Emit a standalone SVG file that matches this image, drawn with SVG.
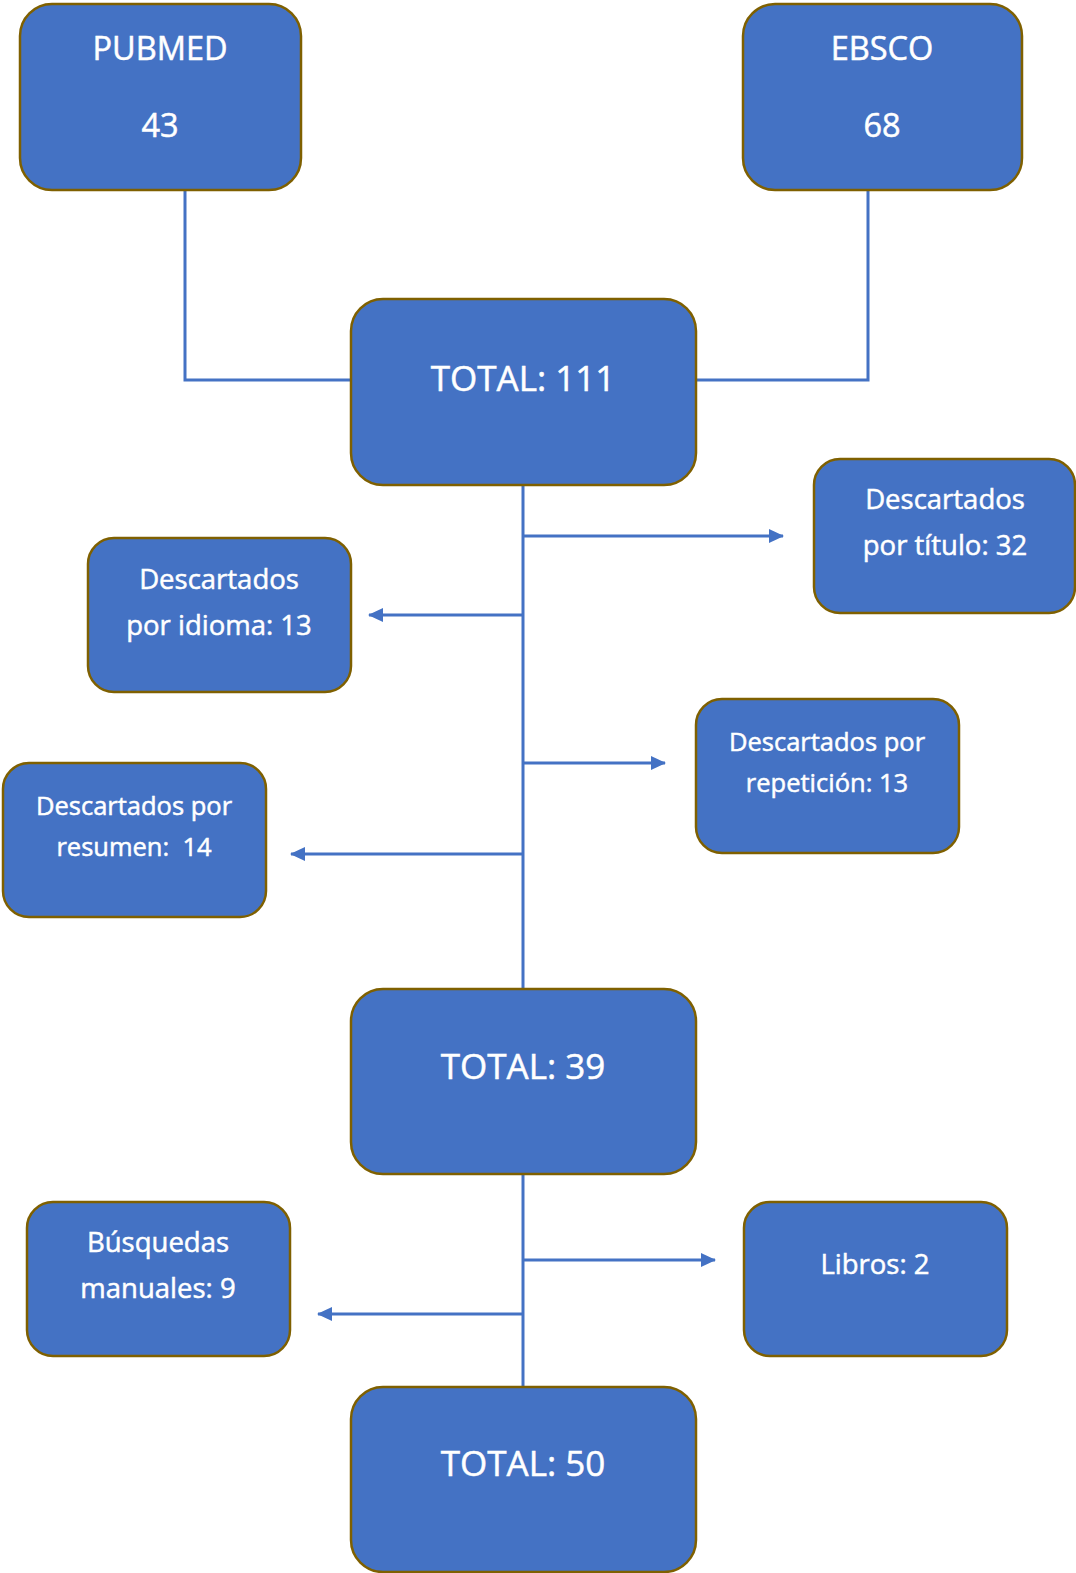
<svg xmlns="http://www.w3.org/2000/svg" width="1076" height="1573" viewBox="0 0 1076 1573">
<style>
.box{fill:#4472C4;stroke:#7F6000;stroke-width:2.5}
.t{font-family:"Open Sans","Noto Sans","Liberation Sans",sans-serif;fill:#fff;stroke:#fff;stroke-width:0.5;text-anchor:middle}
.big{font-size:35px}
.mid{font-size:32.5px}
.sm{font-size:27.5px}
.xs{font-size:25.5px}
.c{fill:none;stroke:#4472C4;stroke-width:3}
</style>
<defs>
<marker id="ah" markerUnits="userSpaceOnUse" markerWidth="16" markerHeight="16" viewBox="0 0 16 16" refX="14" refY="8" orient="auto">
<path d="M0,1 L15,8 L0,15 Z" fill="#4472C4"/>
</marker>
</defs>
<g id="connectors">
<polyline class="c" points="185,190 185,380 351,380"/>
<polyline class="c" points="868,190 868,380 696,380"/>
<line class="c" x1="523" y1="485" x2="523" y2="989"/>
<line class="c" x1="523" y1="536" x2="783" y2="536" marker-end="url(#ah)"/>
<line class="c" x1="523" y1="615" x2="369" y2="615" marker-end="url(#ah)"/>
<line class="c" x1="523" y1="763" x2="665" y2="763" marker-end="url(#ah)"/>
<line class="c" x1="523" y1="854" x2="291" y2="854" marker-end="url(#ah)"/>
<line class="c" x1="523" y1="1174" x2="523" y2="1388"/>
<line class="c" x1="523" y1="1260" x2="715" y2="1260" marker-end="url(#ah)"/>
<line class="c" x1="523" y1="1314" x2="318" y2="1314" marker-end="url(#ah)"/>
</g>
<g id="pubmed">
<rect class="box" x="20" y="4" width="281" height="186" rx="32"/>
<text class="t mid" x="160" y="60">PUBMED</text>
<text class="t mid" x="160" y="137">43</text>
</g>
<g id="ebsco">
<rect class="box" x="743" y="4" width="279" height="186" rx="32"/>
<text class="t mid" x="882" y="60">EBSCO</text>
<text class="t mid" x="882" y="137">68</text>
</g>
<g id="total111">
<rect class="box" x="351" y="299" width="345" height="186" rx="32"/>
<text class="t big" x="523" y="391">TOTAL: 111</text>
</g>
<g id="titulo">
<rect class="box" x="814" y="459" width="261" height="154" rx="26"/>
<text class="t sm" x="945" y="509">Descartados</text>
<text class="t sm" x="945" y="555">por título: 32</text>
</g>
<g id="idioma">
<rect class="box" x="88" y="538" width="263" height="154" rx="26"/>
<text class="t sm" x="219" y="589">Descartados</text>
<text class="t sm" x="219" y="635">por idioma: 13</text>
</g>
<g id="repeticion">
<rect class="box" x="696" y="699" width="263" height="154" rx="26"/>
<text class="t xs" x="827" y="751">Descartados por</text>
<text class="t xs" x="827" y="792">repetición: 13</text>
</g>
<g id="resumen">
<rect class="box" x="3" y="763" width="263" height="154" rx="26"/>
<text class="t xs" x="134" y="815">Descartados por</text>
<text class="t xs" x="134" y="856" xml:space="preserve" style="white-space:pre">resumen:  14</text>
</g>
<g id="total39">
<rect class="box" x="351" y="989" width="345" height="185" rx="32"/>
<text class="t big" x="523" y="1079">TOTAL: 39</text>
</g>
<g id="busquedas">
<rect class="box" x="27" y="1202" width="263" height="154" rx="26"/>
<text class="t sm" x="158" y="1252">Búsquedas</text>
<text class="t sm" x="158" y="1298">manuales: 9</text>
</g>
<g id="libros">
<rect class="box" x="744" y="1202" width="263" height="154" rx="26"/>
<text class="t sm" x="875" y="1274">Libros: 2</text>
</g>
<g id="total50">
<rect class="box" x="351" y="1387" width="345" height="185" rx="32"/>
<text class="t big" x="523" y="1476">TOTAL: 50</text>
</g>
</svg>
